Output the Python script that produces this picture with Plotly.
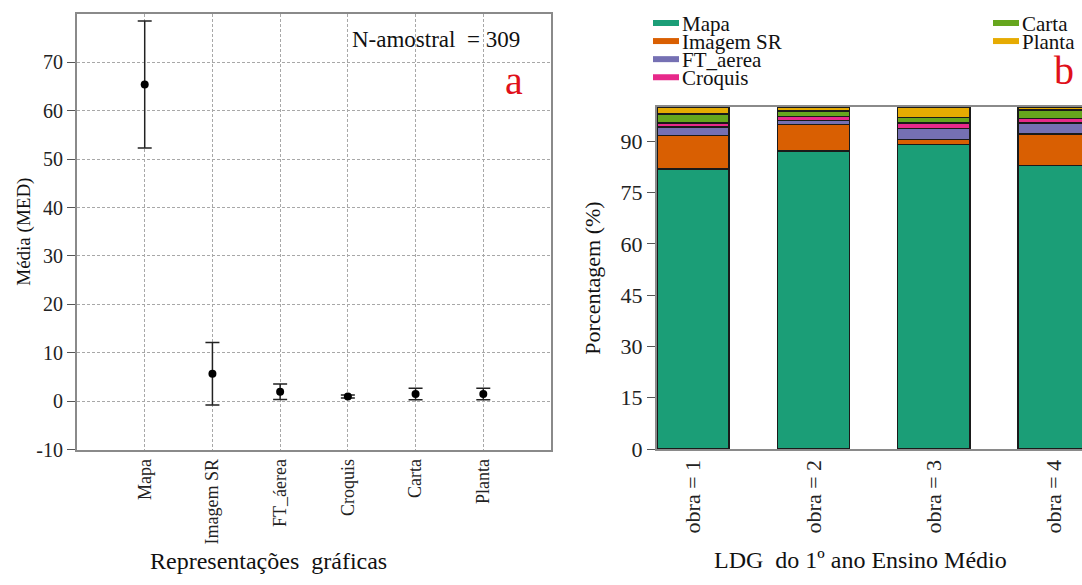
import plotly.graph_objects as go

W, H = 1082, 585
SERIF = "Liberation Serif"

# ---- panel a: mean and spread per graphic representation ----
rep_labels = ["Mapa", "Imagem SR", "FT_áerea", "Croquis", "Carta", "Planta"]
rep_means = [65.4, 5.7, 2.0, 1.0, 1.5, 1.5]
rep_errors = [13.1, 6.45, 1.6, 0.3, 1.2, 1.2]
n_sample = 309
med_ticks = [-10, 0, 10, 20, 30, 40, 50, 60, 70]

# ---- panel b: percentage composition per textbook ----
books = ["obra = 1", "obra = 2", "obra = 3", "obra = 4"]
series_names = ["Mapa", "Imagem SR", "FT_aerea", "Croquis", "Carta", "Planta"]
pct_mapa = [81.9, 87.2, 89.1, 82.9]
pct_imagem = [9.8, 7.7, 1.4, 9.2]
pct_ft = [2.4, 1.2, 3.2, 3.2]
pct_croquis = [1.2, 1.1, 1.6, 1.4]
pct_carta = [2.6, 1.7, 1.6, 2.4]
pct_planta = [2.1, 1.1, 3.1, 0.9]
series_values = [pct_mapa, pct_imagem, pct_ft, pct_croquis, pct_carta, pct_planta]
series_colors = ["#1b9e77", "#d95f02", "#7570b3", "#e7298a", "#66a61e", "#e6ab02"]
pct_ticks = [0, 15, 30, 45, 60, 75, 90]


def px(x):
    return x / W


def py(y):
    return (H - y) / H


def serif(size, color="#111"):
    return dict(family=SERIF, size=size, color=color)


fig = go.Figure()

fig.add_trace(go.Scatter(
    x=rep_labels, y=rep_means, mode="markers",
    marker=dict(color="black", size=8),
    error_y=dict(type="data", array=rep_errors, symmetric=True,
                 color="#222", thickness=1.5, width=7),
    xaxis="x", yaxis="y", showlegend=False,
))

for name, vals, col in zip(series_names, series_values, series_colors):
    fig.add_trace(go.Bar(
        x=books, y=vals, name=name, width=0.6,
        marker=dict(color=col, line=dict(color="#1a1a1a", width=1.5)),
        xaxis="x2", yaxis="y2", showlegend=False,
    ))

grid = dict(showgrid=True, gridcolor="#a8a8a8", griddash="3px,2px", gridwidth=1)
frame = dict(showline=True, linecolor="#8a8a8a", linewidth=2)

fig.update_layout(
    width=W, height=H,
    margin=dict(l=0, r=0, t=0, b=0),
    paper_bgcolor="white", plot_bgcolor="white",
    barmode="stack",
    font=serif(18, "#222"),
    xaxis=dict(domain=[px(77), px(551)], type="category", range=[-1, 6],
               tickangle=-90, tickfont=serif(18, "#222"),
               ticks="", zeroline=False, mirror=True, **frame, **grid),
    yaxis=dict(domain=[py(460), py(14)], range=[-10, 80],
               tickvals=med_ticks, ticktext=[str(v) for v in med_ticks],
               tickfont=serif(20, "#222"),
               ticks="outside", ticklen=8, tickcolor="#555",
               zeroline=False, mirror=True, **frame, **grid),
    xaxis2=dict(domain=[px(657), 1.0], type="category", range=[-0.3, 3.233],
                anchor="y2", tickangle=-90, tickfont=serif(22, "#222"),
                ticks="", showgrid=False, zeroline=False, mirror=True, **frame),
    yaxis2=dict(domain=[py(459.3), py(109.5)], range=[0, 100], anchor="x2",
                tickvals=pct_ticks, ticktext=[str(v) for v in pct_ticks],
                tickfont=serif(22, "#222"),
                ticks="outside", ticklen=8, tickcolor="#555",
                showgrid=False, zeroline=False, mirror=False, **frame),
)

annotations = [
    dict(text=f"N-amostral&nbsp; = {n_sample}", x=px(522), y=py(40),
         xanchor="right", yanchor="middle", font=serif(23)),
    dict(text="a", x=px(514), y=py(82), xanchor="center", yanchor="middle",
         font=serif(40, "#e0101a")),
    dict(text="b", x=px(1064), y=py(72), xanchor="center", yanchor="middle",
         font=serif(40, "#e0101a")),
    dict(text="Média (MED)", x=px(24), y=py(237), textangle=-90,
         xanchor="center", yanchor="middle", font=serif(19)),
    dict(text="Porcentagem (%)", x=px(593), y=py(285), textangle=-90,
         xanchor="center", yanchor="middle", font=serif(22)),
    dict(text="Representações&nbsp; gráficas", x=px(268), y=py(574),
         xanchor="center", yanchor="middle", font=serif(24)),
    dict(text="LDG&nbsp; do 1º ano Ensino Médio", x=px(860), y=py(573),
         xanchor="center", yanchor="middle", font=serif(24)),
]

# hand-built legend: short thick swatches, two columns
shapes = []
legend_cols = [(653, series_names[:4], series_colors[:4]),
               (993, series_names[4:], series_colors[4:])]
for x0, names, cols in legend_cols:
    for i, (name, col) in enumerate(zip(names, cols)):
        yc = 23.5 + 18.5 * i
        shapes.append(dict(type="line", xref="paper", yref="paper",
                           x0=px(x0), x1=px(x0 + 26), y0=py(yc), y1=py(yc),
                           line=dict(color=col, width=6)))
        annotations.append(dict(text=name, x=px(x0 + 27), y=py(yc + 1),
                                xanchor="left", yanchor="middle",
                                font=serif(21)))

for a in annotations:
    a.setdefault("xref", "paper")
    a.setdefault("yref", "paper")
    a["showarrow"] = False

fig.update_layout(annotations=annotations, shapes=shapes)

fig.write_html("out.html")
